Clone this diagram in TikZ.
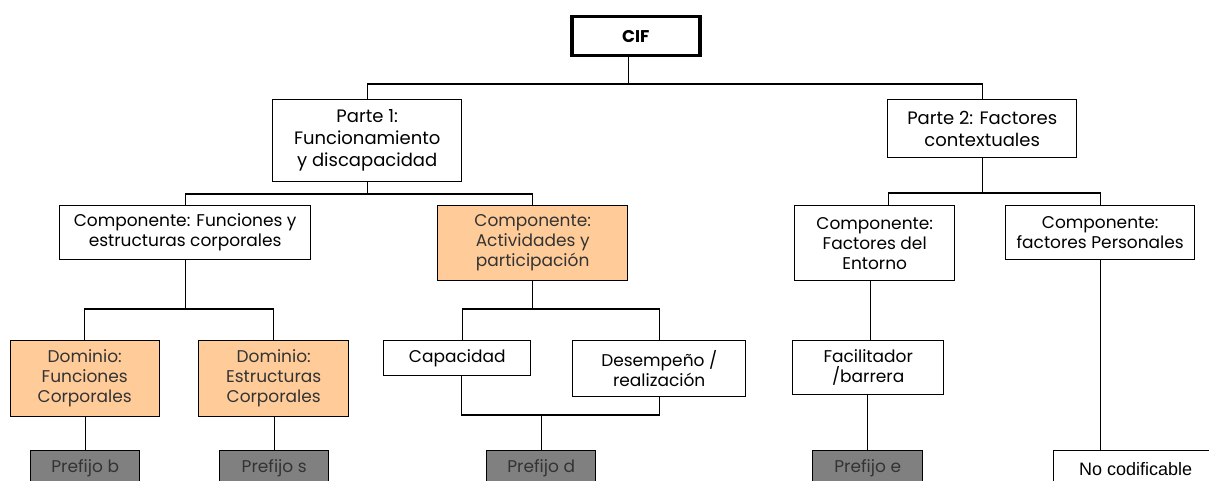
\documentclass[tikz,border=0pt]{standalone}
\usepackage{fontspec}
\setmainfont{Poppins}
\newfontfamily\arialfont{Liberation Sans}
\definecolor{orangefill}{HTML}{FFCC99}
\definecolor{grayfill}{HTML}{808080}
\definecolor{darktext}{HTML}{333333}
\begin{document}
\begin{tikzpicture}[x=1pt,y=-1pt,
  box/.style={draw, line width=1.4pt, inner sep=0pt, align=center, anchor=north west,
    font=\fontsize{17pt}{20pt}\selectfont},
  partbox/.style={box, font=\fontsize{18pt}{22pt}\selectfont},
  orangebox/.style={box, fill=orangefill, text=darktext},
  graybox/.style={box, fill=grayfill, text=darktext},
  rootbox/.style={box, line width=3.5pt, font=\fontsize{17pt}{20pt}\selectfont\bfseries},
  plainbox/.style={box, font=\fontsize{18pt}{20pt}\arialfont},
  conn/.style={line width=1.4pt}
]
\useasboundingbox (0,0) rectangle (1209,481);
\clip (0,0) rectangle (1209,481);

% level 0
\node[rootbox, minimum width=128pt, minimum height=39pt] (cif) at (570,15) {CIF};
% level 1
\node[partbox, minimum width=189pt, minimum height=82pt] (p1) at (272,99) {Parte 1:\\Funcionamiento\\y discapacidad};
\node[partbox, minimum width=189pt, minimum height=58pt] (p2) at (887,99) {Parte 2: Factores\\contextuales};
% level 2
\node[box, minimum width=251pt, minimum height=54pt] (cf) at (59,205) {Componente: Funciones y\\estructuras corporales};
\node[orangebox, minimum width=190pt, minimum height=75pt] (ca) at (437,205) {Componente:\\Actividades y\\participación};
\node[box, minimum width=160pt, minimum height=75pt] (ce) at (794,205) {Componente:\\Factores del\\Entorno};
\node[box, minimum width=189pt, minimum height=54pt] (cp) at (1005,205) {Componente:\\factores Personales};
% level 3
\node[orangebox, minimum width=149pt, minimum height=76pt] (df) at (9.5,340) {Dominio:\\Funciones\\Corporales};
\node[orangebox, minimum width=150pt, minimum height=76pt] (de) at (198,340) {Dominio:\\Estructuras\\Corporales};
\node[box, minimum width=147pt, minimum height=35pt] (cap) at (383,340) {Capacidad};
\node[box, minimum width=173pt, minimum height=56pt] (des) at (572,340) {Desempeño /\\realización};
\node[box, minimum width=151pt, minimum height=54pt] (fac) at (792,340) {Facilitador\\/barrera};
% level 4
\node[graybox, minimum width=109pt, minimum height=36pt] (pb) at (30,450) {Prefijo b};
\node[graybox, minimum width=109pt, minimum height=36pt] (ps) at (219,450) {Prefijo s};
\node[graybox, minimum width=109pt, minimum height=36pt] (pd) at (486,450) {Prefijo d};
\node[graybox, minimum width=110pt, minimum height=36pt] (pe) at (812,450) {Prefijo e};
\node[plainbox, minimum width=164pt, minimum height=36pt] (nc) at (1053,450) {No codificable};

% connectors
\coordinate (cifout) at ([xshift=-7pt]cif.south);
\draw[conn] (cifout) -- (cifout |- 0,84);
\draw[conn] (p1.north) -- (p1.north |- 0,84) -| (p2.north);

\draw[conn] (p1.south) -- (p1.south |- 0,194);
\draw[conn] (cf.north) -- (cf.north |- 0,194) -| (ca.north);

\coordinate (cein) at ([xshift=14pt]ce.north);
\draw[conn] (p2.south) -- (p2.south |- 0,193);
\draw[conn] (cein) -- (cein |- 0,193) -| (cp.north);

\draw[conn] (cf.south) -- (cf.south |- 0,309);
\draw[conn] (df.north) -- (df.north |- 0,309) -| (de.north);

\coordinate (capin) at ([xshift=5pt]cap.north);
\draw[conn] (ca.south) -- (ca.south |- 0,309);
\draw[conn] (capin) -- (capin |- 0,309) -| (des.north);

\coordinate (facin) at ([xshift=2pt]fac.north);
\draw[conn] (facin) -- (facin |- ce.south);
\draw[conn] (pe.north) -- (pe.north |- fac.south);
\draw[conn] (cp.south) -- (cp.south |- nc.north);
\draw[conn] (pb.north) -- (pb.north |- df.south);
\draw[conn] (ps.north) -- (ps.north |- de.south);

\coordinate (capout) at ([xshift=4pt]cap.south);
\draw[conn] (capout) -- (capout |- 0,415) -| (des.south);
\draw[conn] (pd.north) -- (pd.north |- 0,415);
\end{tikzpicture}
\end{document}
